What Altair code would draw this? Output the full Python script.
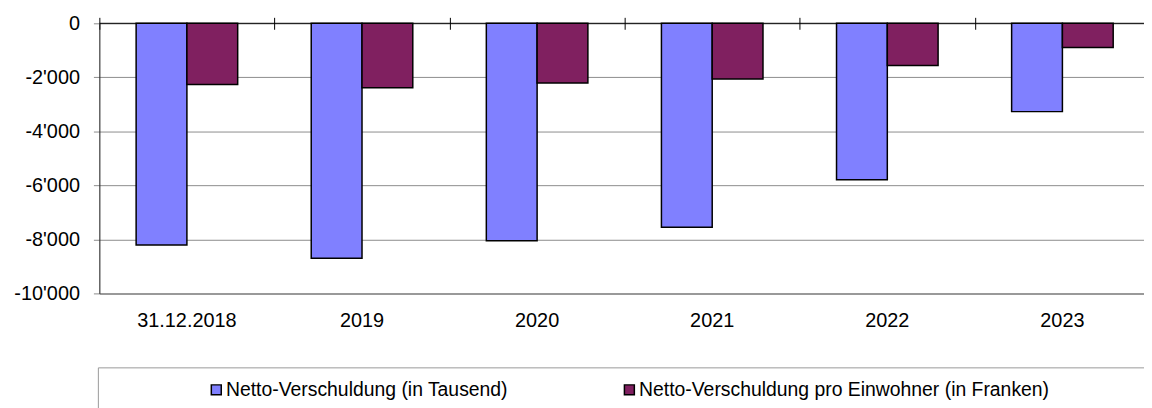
import altair as alt
import pandas as pd

categories = ["31.12.2018", "2019", "2020", "2021", "2022", "2023"]
series = ["Netto-Verschuldung (in Tausend)", "Netto-Verschuldung pro Einwohner (in Franken)"]
netto_tausend = [-8210, -8700, -8050, -7550, -5790, -3270]
netto_pro_einwohner = [-2270, -2390, -2210, -2060, -1560, -900]
colors = ["#8080FF", "#802060"]
y_ticks = [-10000, -8000, -6000, -4000, -2000, 0]

rows = []
for i, c in enumerate(categories):
    rows.append({"cat": c, "series": series[0], "value": netto_tausend[i]})
    rows.append({"cat": c, "series": series[1], "value": netto_pro_einwohner[i]})
df = pd.DataFrame(rows)

FONT = "Liberation Sans"
W, H = 1052, 272
XR = 1058  # category range runs a little past the visible right edge, as in the original

xscale = alt.Scale(domain=categories, paddingInner=0.42, paddingOuter=0.21, range=[0, XR])
yscale = alt.Scale(domain=[-10000, 0], nice=False)
yaxis = alt.Axis(values=y_ticks, grid=True, gridColor="#8c8c8c", gridWidth=1,
                 domain=True, domainColor="#222222", domainWidth=1,
                 ticks=True, tickSize=6, tickColor="#8c8c8c",
                 labelFont=FONT, labelFontSize=20, labelColor="black",
                 labelPadding=14, title=None,
                 labelExpr="datum.value < 0 ? '-' + replace(format(-datum.value, ','), ',', \"'\") : '0'")

base = alt.Chart(df)

bars = base.mark_bar(stroke="black", strokeWidth=1.5).encode(
    x=alt.X("cat:N", sort=categories, scale=xscale, title=None,
            axis=alt.Axis(orient="bottom", labelAngle=0, ticks=False, tickSize=0,
                          domain=True, domainColor="#999999", domainWidth=2,
                          labelFont=FONT, labelFontSize=20, labelColor="black",
                          labelPadding=17)),
    xOffset=alt.XOffset("series:N", sort=series, scale=alt.Scale(paddingInner=0, paddingOuter=0)),
    y=alt.Y("value:Q", scale=yscale, title=None, axis=yaxis),
    color=alt.Color("series:N", sort=series,
                    scale=alt.Scale(domain=series, range=colors),
                    legend=alt.Legend(title=None, orient="none", legendX=108, legendY=359,
                                      direction="horizontal", columns=2, columnPadding=112,
                                      symbolType="square", symbolSize=100,
                                      symbolStrokeColor="black", symbolStrokeWidth=1.5,
                                      labelFont=FONT, labelFontSize=19.5, labelColor="black",
                                      labelLimit=700, labelOffset=0, padding=0)),
)

top_ticks = base.mark_bar(opacity=0).encode(
    x=alt.X("cat:N", sort=categories,
            scale=alt.Scale(domain=categories, paddingInner=0, paddingOuter=0, range=[0, XR]),
            title=None,
            axis=alt.Axis(orient="top", labels=False, domain=False, ticks=True,
                          tickBand="extent", tickSize=12, tickColor="black",
                          tickWidth=1, offset=-6, grid=False)),
    y=alt.Y("value:Q", scale=yscale, title=None, axis=yaxis),
)

chart = alt.layer(bars, top_ticks).resolve_scale(x="independent").resolve_axis(x="independent")

zero_rule = alt.Chart(pd.DataFrame({"z": [0]})).mark_rule(color="black", strokeWidth=1).encode(
    y=alt.value(0), x=alt.value(0), x2=alt.value(W)
)
box_top = alt.Chart(pd.DataFrame({"z": [0]})).mark_rule(color="#999999", strokeWidth=1).encode(
    x=alt.value(-1), x2=alt.value(W + 10), y=alt.value(347)
)
box_left = alt.Chart(pd.DataFrame({"z": [0]})).mark_rule(color="#999999", strokeWidth=1).encode(
    x=alt.value(-1), y=alt.value(347), y2=alt.value(430)
)

chart = alt.layer(chart, zero_rule, box_top, box_left).properties(
    width=W, height=H,
    autosize=alt.AutoSizeParams(type="none"),
    padding={"left": 92, "top": 14, "right": 0, "bottom": 114},
).configure_view(stroke=None).configure(background="white")

chart.save("out.html", embed_options={"renderer": "svg", "actions": False})
